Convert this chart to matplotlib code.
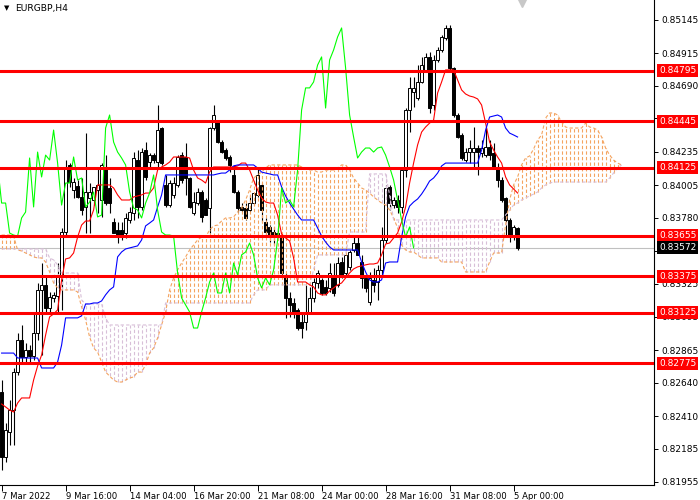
import numpy as np
import matplotlib
matplotlib.use('Agg')
import matplotlib.pyplot as plt
from matplotlib.transforms import blended_transform_factory

# EURGBP H4 candles, prices in points (1e-5)
opn = [82576, 82128, 82300, 82452, 82714, 82935, 82818, 82866, 82825, 82983,
       83281, 83316, 83157, 83226, 83240, 83371, 83681, 84144, 83971, 83999,
       83923, 83854, 83916, 83902, 83971, 83902, 84130, 83985, 83750, 83695,
       83695, 83674, 83764, 83812, 84178, 83854, 84247, 84164, 84212, 84164,
       84399, 84006, 83867, 83937, 84006, 84212, 84199, 84054, 83812, 83881,
       83957, 83902, 83847, 84399, 84440, 84302, 84247, 84199, 84075, 83957,
       83854, 83847, 83833, 83881, 83937, 84006, 83750, 83716, 83681, 83674,
       83646, 83371, 83226, 83191, 83143, 83060, 83060, 83129, 83226, 83329,
       83350, 83302, 83295, 83384, 83316, 83474, 83398, 83440, 83557, 83605,
       83474, 83364, 83198, 83350, 83336, 83419, 83626, 83992, 83867, 83902,
       83854, 84109, 84523, 84648, 84607, 84717, 84800, 84890, 84558, 84869,
       84938, 85021, 85090, 84814, 84489, 84351, 84178, 84233, 84233, 84261,
       84226, 84212, 84268, 84226, 84130, 84040, 83916, 83764, 83646, 83709]
high = [82659, 82362, 82521, 82742, 82983, 83039, 82914, 82900, 83122, 83329,
        83467, 83371, 83267, 83267, 83467, 83709, 84178, 84157, 84054, 84040,
        84054, 84364, 84019, 83992, 84130, 84157, 84212, 84054, 83778, 83750,
        83750, 83812, 83854, 84233, 84247, 84261, 84302, 84226, 84226, 84558,
        84406, 84075, 84040, 84061, 84212, 84233, 84295, 84061, 83957, 83985,
        83971, 83916, 84406, 84558, 84454, 84316, 84261, 84212, 84144, 83971,
        83881, 83881, 83937, 83950, 84123, 84019, 83778, 83729, 83716, 83709,
        83660, 83398, 83267, 83226, 83157, 83129, 83316, 83302, 83364, 83419,
        83364, 83350, 83467, 83467, 83509, 83509, 83537, 83557, 83660, 83660,
        83523, 83371, 83405, 83433, 83454, 83716, 84006, 84006, 83923, 83937,
        84123, 84537, 84752, 84752, 84834, 84890, 84917, 84924, 84903, 84959,
        85041, 85110, 85110, 84821, 84503, 84364, 84261, 84316, 84406, 84282,
        84316, 84399, 84316, 84295, 84157, 84061, 83923, 83778, 83729, 83716]
low = [82038, 82093, 82210, 82210, 82693, 82776, 82776, 82783, 82797, 82935,
       82831, 83129, 83129, 83198, 83129, 83143, 83660, 83992, 83916, 83916,
       83798, 83674, 83674, 83867, 83812, 83785, 83867, 83812, 83674, 83605,
       83626, 83640, 83743, 83764, 83778, 83833, 84040, 84130, 84157, 84130,
       84144, 83854, 83854, 83916, 83992, 84019, 83937, 83847, 83798, 83867,
       83750, 83798, 83674, 84385, 84295, 84226, 84178, 84095, 83950, 83819,
       83819, 83764, 83819, 83867, 83923, 83750, 83660, 83612, 83591, 83626,
       83384, 83088, 83095, 83088, 83004, 82949, 83004, 83122, 83198, 83295,
       83247, 83247, 83267, 83240, 83302, 83364, 83384, 83419, 83543, 83523,
       83295, 83267, 83177, 83267, 83212, 83371, 83605, 83833, 83847, 83812,
       83812, 84061, 84371, 84544, 84593, 84710, 84786, 84503, 84523, 84855,
       84924, 85007, 84800, 84475, 84330, 84178, 84164, 84157, 84130, 84075,
       84199, 84199, 84178, 84123, 83992, 83888, 83646, 83612, 83626, 83557]
close = [82128, 82314, 82452, 82714, 82935, 82818, 82866, 82825, 82983, 83281,
         83316, 83157, 83233, 83247, 83371, 83681, 84130, 84026, 84026, 83923,
         83833, 83957, 83957, 83992, 84006, 84144, 83881, 83881, 83674, 83660,
         83653, 83778, 83819, 84192, 83854, 84233, 84061, 84212, 84178, 84385,
         84157, 83867, 84019, 84019, 84199, 84040, 84054, 83854, 83888, 83957,
         83785, 83798, 84399, 84489, 84302, 84233, 84192, 84144, 83957, 83847,
         83833, 83778, 83881, 83950, 84075, 83833, 83681, 83660, 83660, 83653,
         83398, 83226, 83177, 83129, 83018, 83018, 83129, 83226, 83336, 83398,
         83260, 83260, 83398, 83260, 83467, 83384, 83523, 83543, 83605, 83523,
         83364, 83295, 83364, 83316, 83419, 83626, 83985, 83881, 83902, 83854,
         84109, 84523, 84676, 84676, 84717, 84834, 84890, 84537, 84869, 84938,
         85028, 85090, 84814, 84489, 84337, 84192, 84233, 84261, 84261, 84233,
         84261, 84268, 84212, 84130, 84040, 83902, 83764, 83646, 83716, 83572]

# Ichimoku lines
tenkan = [82493, 82473, 82452, 82438, 82500, 82535, 82535, 82535, 82659, 82756,
          82831, 82969, 83095, 83115, 83143, 83350, 83495, 83502, 83536, 83646,
          83729, 83757, 83757, 83833, 84006, 84006, 84006, 84006, 83985, 83937,
          83902, 83902, 83902, 83923, 83930, 83937, 83950, 83950, 83985, 84109,
          84130, 84144, 84164, 84199, 84199, 84199, 84199, 84192, 84109, 84054,
          84040, 84019, 84095, 84130, 84130, 84130, 84130, 84130, 84130, 84137,
          84157, 84157, 84109, 84040, 83971, 83916, 83888, 83881, 83881, 83798,
          83667, 83640, 83619, 83502, 83336, 83336, 83336, 83316, 83302, 83260,
          83247, 83247, 83274, 83295, 83316, 83329, 83364, 83398, 83426, 83440,
          83447, 83454, 83460, 83460, 83467, 83523, 83598, 83605, 83640, 83674,
          83750, 83854, 84019, 84157, 84282, 84371, 84406, 84433, 84454, 84641,
          84717, 84800, 84800, 84800, 84731, 84662, 84634, 84620, 84613, 84600,
          84558, 84433, 84302, 84247, 84199, 84157, 84061, 84006, 83978, 83950]
kijun = [82845, 82845, 82845, 82845, 82811, 82811, 82811, 82811, 82811, 82811,
         82742, 82742, 82742, 82742, 82783, 82900, 83088, 83088, 83088, 83088,
         83102, 83184, 83184, 83191, 83191, 83205, 83247, 83281, 83302, 83509,
         83543, 83564, 83571, 83578, 83585, 83626, 83723, 83743, 83764, 83854,
         83937, 84075, 84075, 84075, 84075, 84075, 84075, 84075, 84075, 84075,
         84075, 84075, 84075, 84075, 84082, 84088, 84088, 84109, 84137, 84144,
         84144, 84144, 84144, 84144, 84123, 84095, 84088, 84082, 84075, 84075,
         83992, 83930, 83881, 83840, 83798, 83764, 83764, 83764, 83764, 83709,
         83653, 83612, 83578, 83557, 83557, 83557, 83557, 83557, 83557, 83557,
         83474, 83405, 83350, 83336, 83336, 83350, 83467, 83474, 83474, 83474,
         83646, 83785, 83860, 83888, 83909, 83943, 83985, 84033, 84054, 84088,
         84137, 84157, 84157, 84157, 84157, 84157, 84157, 84157, 84157, 84157,
         84247, 84385, 84475, 84482, 84489, 84475, 84399, 84364, 84351, 84337]
span_a = [83660, 83660, 83660, 83653, 83557, 83550, 83536, 83523, 83509, 83502,
          83502, 83474, 83405, 83329, 83295, 83281, 83281, 83281, 83281, 83267,
          83164, 83074, 82956, 82880, 82852, 82783, 82714, 82687, 82659, 82645,
          82645, 82659, 82673, 82680, 82714, 82714, 82763, 82845, 82880, 82949,
          83039, 83129, 83281, 83364, 83419, 83467, 83509, 83557, 83591, 83626,
          83646, 83646, 83695, 83723, 83729, 83757, 83778, 83778, 83785, 83819,
          83847, 83902, 83971, 84054, 84075, 84095, 84123, 84144, 84144, 84144,
          84144, 84144, 84144, 84144, 84144, 84130, 84123, 84109, 84109, 84095,
          84095, 84109, 84109, 84109, 84123, 84144, 84144, 84109, 84054, 84019,
          83985, 83971, 83950, 83923, 83902, 83881, 83867, 83833, 83778, 83709,
          83591, 83557, 83543, 83543, 83523, 83502, 83502, 83502, 83502, 83502,
          83474, 83474, 83474, 83474, 83474, 83474, 83405, 83405, 83405, 83405,
          83405, 83405, 83474, 83536, 83536, 83536, 83729, 83902, 84006, 84061,
          84144, 84192, 84206, 84254, 84316, 84351, 84468, 84503, 84503, 84489,
          84440, 84406, 84399, 84399, 84399, 84399, 84433, 84406, 84399, 84385,
          84337, 84261, 84212, 84178, 84157, 84144]
span_b = [83564, 83564, 83564, 83564, 83564, 83564, 83564, 83564, 83564, 83564,
          83564, 83564, 83502, 83488, 83454, 83398, 83398, 83398, 83398, 83398,
          83212, 83184, 83184, 83184, 83184, 83184, 83088, 83039, 83039, 83039,
          83039, 83039, 83039, 83039, 83039, 83039, 83039, 83039, 83039, 83039,
          83039, 83191, 83191, 83191, 83191, 83191, 83191, 83191, 83191, 83191,
          83191, 83191, 83191, 83191, 83191, 83191, 83191, 83191, 83191, 83191,
          83191, 83191, 83191, 83247, 83281, 83281, 83281, 83316, 83316, 83316,
          83316, 83316, 83316, 83316, 83316, 83316, 83316, 83316, 83419, 83523,
          83523, 83523, 83523, 83523, 83523, 83523, 83523, 83681, 83681, 83681,
          83681, 83681, 84082, 84082, 84082, 84082, 84082, 83937, 83764, 83764,
          83764, 83764, 83764, 83764, 83764, 83764, 83764, 83764, 83764, 83764,
          83764, 83764, 83764, 83764, 83764, 83764, 83764, 83764, 83764, 83764,
          83764, 83764, 83764, 83764, 83764, 83764, 83798, 83833, 83867, 83881,
          83902, 83916, 83930, 83943, 83957, 83985, 84006, 84019, 84026, 84026,
          84026, 84026, 84026, 84026, 84026, 84026, 84026, 84026, 84026, 84026,
          84026, 84026, 84054, 84088, 84123, 84144]

levels = [0.84795, 0.84445, 0.84125, 0.83655, 0.83375, 0.83125, 0.82775]
last_price = 0.83572
yticks = [0.85145, 0.84915, 0.84690, 0.84465, 0.84235, 0.84005, 0.83780, 0.83550,
          0.83325, 0.83095, 0.82865, 0.82640, 0.82410, 0.82185, 0.81955]
# labels hidden behind the price boxes in the terminal
hidden_ticks = [0.84465, 0.83550]
xtick_bars = [0, 16, 32, 48, 64, 80, 96, 112, 128]
xtick_labels = ['7 Mar 2022', '9 Mar 16:00', '14 Mar 04:00', '16 Mar 20:00',
                '21 Mar 08:00', '24 Mar 00:00', '28 Mar 16:00', '31 Mar 08:00',
                '5 Apr 00:00']
shift = 26

o = np.array(opn) / 1e5
h = np.array(high) / 1e5
l = np.array(low) / 1e5
c = np.array(close) / 1e5
sa = np.array(span_a) / 1e5
sb = np.array(span_b) / 1e5
idx = np.arange(len(c))
ic = np.arange(len(sa))

plt.rcParams['font.family'] = ['DejaVu Sans']
fig = plt.figure(figsize=(7, 5), dpi=100)
ax = fig.add_axes([0, 15 / 500, 654 / 700, 485 / 500])

# last price line
ax.axhline(last_price, color='#C0C0C0', lw=0.8, zorder=1)

# candles
up = c >= o
ax.vlines(idx, l, h, color='black', lw=0.8, zorder=2)
body_lo = np.minimum(o, c)
body_h = np.maximum(np.abs(c - o), 0.000005)
ax.bar(idx, body_h, bottom=body_lo, width=0.6,
       color=np.where(up, 'white', 'black'), edgecolor='black', lw=0.7, zorder=2.1)

# kumo
cloud_cols = np.where(sa >= sb, '#F4A460', '#D8BFD8')
ax.vlines(ic, np.minimum(sa, sb), np.maximum(sa, sb), colors=cloud_cols,
          linestyles=(0, (3, 2)), lw=0.8, zorder=3)
ax.plot(ic, sa, color='#F4A460', ls=(0, (3, 2)), lw=0.8, zorder=3)
ax.plot(ic, sb, color='#D8BFD8', ls=(0, (3, 2)), lw=0.8, zorder=3)

# tenkan, kijun, chikou
ax.plot(idx, np.array(tenkan) / 1e5, color='#FF0000', lw=0.8, zorder=4)
ax.plot(idx, np.array(kijun) / 1e5, color='#0000FF', lw=0.8, zorder=4)
ax.plot(idx - shift, c, color='#00FF00', lw=0.8, zorder=4)

# support / resistance levels
for lv in levels:
    ax.axhline(lv, color='#FF0000', lw=2.2, zorder=6)

ax.set_xlim(-0.4, 163.1)
ax.set_ylim(0.81934, 0.85283)

for s in ['left', 'top']:
    ax.spines[s].set_visible(False)
for s in ['right', 'bottom']:
    ax.spines[s].set_linewidth(0.8)

ax.yaxis.tick_right()
ax.set_yticks(yticks)
ax.set_yticklabels(['' if v in hidden_ticks else '%.5f' % v for v in yticks])
ax.tick_params(axis='y', direction='out', length=3, width=0.7, pad=2, labelsize=6.5)
ax.set_xticks(xtick_bars)
ax.set_xticklabels(xtick_labels, ha='left')
ax.tick_params(axis='x', direction='out', length=4, width=0.7, pad=1, labelsize=6.1)

# price labels on the right
tr = blended_transform_factory(ax.transAxes, ax.transData)
for lv in levels:
    ax.text(1.0 + 5 / 654, lv, '%.5f' % lv, transform=tr, color='white', fontsize=6.5,
            va='center', ha='left', clip_on=False, zorder=10,
            bbox=dict(boxstyle='square,pad=0.2', fc='#FF0000', ec='none'))
ax.text(1.0 + 5 / 654, last_price, '%.5f' % last_price, transform=tr, color='white',
        fontsize=6.5, va='center', ha='left', clip_on=False, zorder=10,
        bbox=dict(boxstyle='square,pad=0.2', fc='black', ec='none'))

# chart title and shift marker
fig.text(4 / 700, 1 - 8 / 500, '\u25bc', fontsize=5, va='center', ha='left')
fig.text(15 / 700, 1 - 8 / 500, 'EURGBP,H4', fontsize=6.6, va='center', ha='left')
ax.plot([522 / 654], [1 - 2 / 485], marker='v', color='#C8C8C8', ms=7,
        transform=ax.transAxes, clip_on=False, zorder=7)

fig.savefig('out.png', dpi=100)
